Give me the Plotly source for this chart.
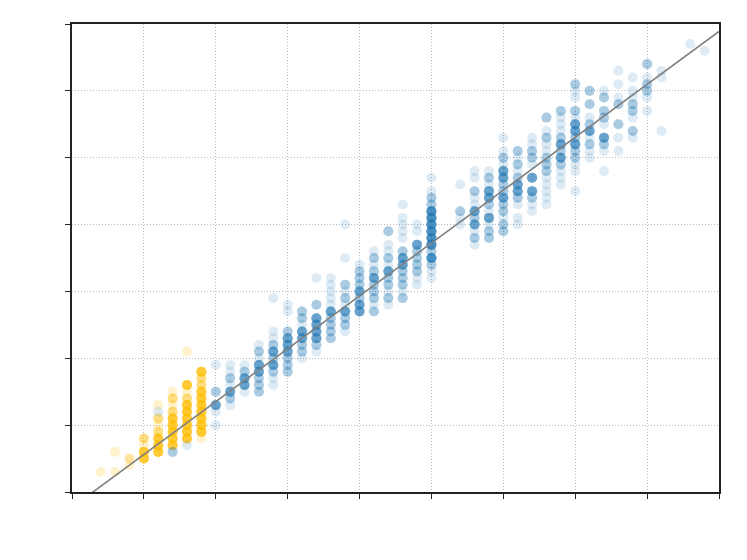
import plotly.graph_objects as go

# Column positions (x) and, per column, the y values and how many observations sit there
yellow_x = [0.4, 0.6, 0.8, 1.0, 1.2, 1.4, 1.6, 1.8]
yellow_y = [
    [0.3],
    [0.6, 0.3],
    [0.5, 0.4],
    [0.8, 0.7, 0.6, 0.5],
    [1.3, 1.1, 1.0, 0.9, 0.8, 0.7, 0.6],
    [1.5, 1.4, 1.3, 1.2, 1.1, 1.0, 0.9, 0.8, 0.7],
    [2.1, 1.6, 1.5, 1.4, 1.3, 1.2, 1.1, 1.0, 0.9, 0.8],
    [1.8, 1.7, 1.6, 1.5, 1.4, 1.3, 1.2, 1.1, 1.0, 0.9, 0.8],
]
yellow_n = [
    [1],
    [1, 1],
    [2, 1],
    [3, 1, 7, 7],
    [1, 3, 1, 3, 7, 7, 7],
    [1, 3, 1, 3, 7, 7, 7, 7, 7],
    [1, 7, 1, 3, 7, 7, 7, 7, 7, 7],
    [7, 3, 3, 7, 7, 7, 7, 7, 7, 7, 1],
]

blue_x = [1.2, 1.4, 1.6, 2.0, 2.2, 2.4, 2.6, 2.8, 3.0, 3.2, 3.4, 3.6, 3.8, 4.0,
          4.2, 4.4, 4.6, 4.8, 5.0, 5.4, 5.6, 5.8, 6.0, 6.2, 6.4, 6.6, 6.8, 7.0,
          7.2, 7.4, 7.6, 7.8, 8.0, 8.2, 8.6, 8.8]
blue_y = [
    [1.2],
    [0.6],
    [0.7],
    [1.9, 1.5, 1.3, 1.2, 1.0],
    [1.9, 1.8, 1.7, 1.6, 1.5, 1.4, 1.3],
    [1.9, 1.8, 1.7, 1.6, 1.5],
    [2.2, 2.1, 2.0, 1.9, 1.8, 1.7, 1.6, 1.5],
    [2.9, 2.4, 2.3, 2.2, 2.1, 2.0, 1.9, 1.8, 1.7, 1.6],
    [2.8, 2.7, 2.4, 2.3, 2.2, 2.1, 2.0, 1.9, 1.8],
    [2.7, 2.6, 2.5, 2.4, 2.3, 2.2, 2.1, 2.0],
    [3.2, 2.8, 2.6, 2.5, 2.4, 2.3, 2.2, 2.1],
    [3.2, 3.1, 3.0, 2.9, 2.8, 2.7, 2.6, 2.5, 2.4, 2.3],
    [4.0, 3.5, 3.1, 3.0, 2.9, 2.8, 2.7, 2.6, 2.5, 2.4],
    [3.4, 3.3, 3.2, 3.1, 3.0, 2.9, 2.8, 2.7],
    [3.6, 3.5, 3.4, 3.3, 3.2, 3.1, 3.0, 2.9, 2.8, 2.7],
    [3.9, 3.7, 3.6, 3.5, 3.4, 3.3, 3.2, 3.1, 3.0, 2.9, 2.8],
    [4.3, 4.1, 4.0, 3.9, 3.8, 3.6, 3.5, 3.4, 3.3, 3.2, 3.1, 3.0, 2.9],
    [4.0, 3.9, 3.7, 3.6, 3.5, 3.4, 3.3, 3.2, 3.1],
    [4.7, 4.5, 4.4, 4.3, 4.2, 4.1, 4.0, 3.9, 3.8, 3.7, 3.6, 3.5, 3.4, 3.3, 3.2],
    [4.6, 4.2, 4.1, 4.0],
    [4.8, 4.7, 4.5, 4.4, 4.3, 4.2, 4.1, 4.0, 3.9, 3.8, 3.7],
    [4.8, 4.7, 4.6, 4.5, 4.4, 4.3, 4.2, 4.1, 4.0, 3.9, 3.8],
    [5.3, 5.1, 5.0, 4.9, 4.8, 4.7, 4.6, 4.5, 4.4, 4.3, 4.2, 4.1, 4.0, 3.9],
    [5.1, 5.0, 4.9, 4.8, 4.7, 4.6, 4.5, 4.4, 4.3, 4.1, 4.0],
    [5.3, 5.2, 5.1, 5.0, 4.9, 4.7, 4.5, 4.4, 4.3, 4.2],
    [5.6, 5.4, 5.3, 5.2, 5.1, 5.0, 4.9, 4.8, 4.7, 4.6, 4.5, 4.4, 4.3],
    [5.7, 5.6, 5.5, 5.4, 5.3, 5.2, 5.1, 5.0, 4.9, 4.8, 4.7, 4.6],
    [6.1, 6.0, 5.9, 5.7, 5.6, 5.5, 5.4, 5.3, 5.2, 5.1, 5.0, 4.9, 4.8, 4.5],
    [6.0, 5.8, 5.6, 5.5, 5.4, 5.3, 5.2, 5.1, 5.0],
    [6.0, 5.9, 5.7, 5.6, 5.5, 5.3, 5.2, 5.1, 4.8],
    [6.3, 6.1, 5.9, 5.8, 5.5, 5.3, 5.1],
    [6.2, 6.0, 5.9, 5.8, 5.7, 5.6, 5.4, 5.3],
    [6.4, 6.2, 6.1, 6.0, 5.9, 5.7],
    [6.3, 6.2, 5.4],
    [6.7],
    [6.6],
]
blue_n = [
    [1],
    [3],
    [1],
    [1, 3, 7, 1, 1],
    [1, 1, 3, 1, 7, 3, 1],
    [1, 3, 7, 7, 1],
    [1, 3, 1, 7, 7, 3, 3, 3],
    [1, 1, 1, 3, 7, 3, 7, 3, 1, 1],
    [1, 1, 3, 7, 7, 7, 3, 3, 3],
    [3, 3, 1, 7, 7, 3, 3, 1],
    [1, 3, 7, 7, 7, 7, 3, 1],
    [1, 1, 1, 1, 1, 7, 3, 3, 3, 3],
    [1, 1, 3, 1, 3, 1, 7, 3, 3, 1],
    [1, 3, 3, 3, 7, 3, 7, 7],
    [1, 3, 1, 3, 7, 3, 3, 3, 1, 3],
    [3, 1, 1, 3, 1, 7, 3, 3, 1, 3, 1],
    [1, 1, 1, 1, 1, 3, 7, 7, 3, 3, 3, 1, 3],
    [1, 1, 7, 3, 3, 3, 3, 1, 1],
    [1, 1, 3, 3, 10, 10, 10, 10, 10, 10, 3, 10, 3, 1, 1],
    [1, 3, 1, 1],
    [1, 1, 3, 1, 1, 7, 3, 7, 1, 3, 1],
    [1, 3, 1, 7, 7, 3, 1, 7, 1, 3, 3],
    [1, 1, 3, 1, 7, 7, 3, 3, 7, 3, 3, 1, 3, 3],
    [3, 1, 3, 1, 3, 7, 7, 3, 1, 1, 1],
    [1, 1, 3, 3, 1, 7, 7, 3, 1, 1],
    [3, 1, 3, 1, 1, 3, 3, 3, 1, 1, 1, 1, 1],
    [3, 1, 1, 1, 3, 7, 3, 7, 3, 1, 1, 1],
    [3, 1, 1, 3, 1, 7, 7, 3, 7, 3, 3, 1, 1, 1],
    [3, 3, 1, 3, 7, 1, 3, 1, 1],
    [1, 3, 3, 3, 1, 7, 3, 1, 1],
    [1, 1, 1, 3, 3, 1, 1],
    [1, 1, 1, 3, 3, 1, 3, 1],
    [3, 1, 3, 3, 1, 1],
    [1, 1, 1],
    [1],
    [1],
]

# Fitted reference line: y = slope * x + intercept
fit_slope = 0.791
fit_intercept = -0.231
x_range = [0, 9]
y_range = [0, 7]


def expand(cols, ys, ns):
    xs_out, ys_out = [], []
    for x, yl, nl in zip(cols, ys, ns):
        for y, n in zip(yl, nl):
            xs_out += [x] * n
            ys_out += [y] * n
    return xs_out, ys_out


yx, yy = expand(yellow_x, yellow_y, yellow_n)
bx, by = expand(blue_x, blue_y, blue_n)

fig = go.Figure()
fig.add_trace(go.Scatter(
    x=yx, y=yy, mode="markers",
    marker=dict(size=10, color="rgba(255,192,0,0.2)", line=dict(width=0)),
    showlegend=False, hoverinfo="skip"))
fig.add_trace(go.Scatter(
    x=bx, y=by, mode="markers",
    marker=dict(size=10, color="rgba(31,119,180,0.15)", line=dict(width=0)),
    showlegend=False, hoverinfo="skip"))
fig.add_trace(go.Scatter(
    x=x_range, y=[fit_slope * v + fit_intercept for v in x_range],
    mode="lines", line=dict(color="#808080", width=1.6),
    showlegend=False, hoverinfo="skip"))

axis_common = dict(
    showticklabels=False,
    ticks="outside", ticklen=5, tickwidth=1.2, tickcolor="#222",
    showline=True, linecolor="#222", linewidth=1.6, mirror=True,
    showgrid=True, gridcolor="#b8b8b8", gridwidth=0.8, griddash="1px,2px",
    zeroline=False, dtick=1, tick0=0,
)

fig.update_xaxes(range=x_range, **axis_common)
fig.update_yaxes(range=y_range, **axis_common)

fig.update_layout(
    width=739, height=552,
    margin=dict(l=64, r=28, t=16, b=68),
    plot_bgcolor="white", paper_bgcolor="white",
)

fig.write_html("out.html")
